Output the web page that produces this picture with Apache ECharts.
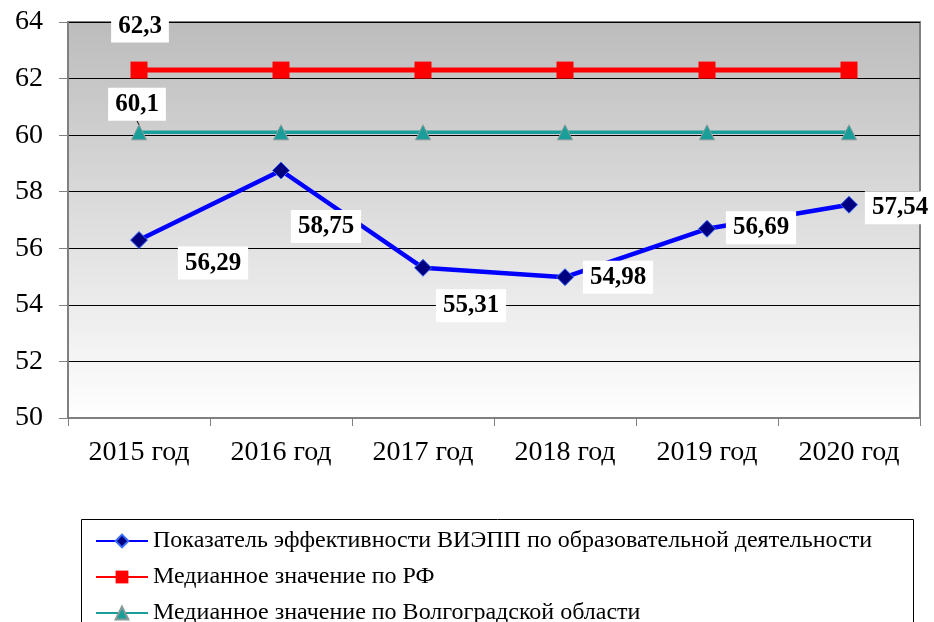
<!DOCTYPE html>
<html>
<head>
<meta charset="utf-8">
<script src="https://cdn.jsdelivr.net/npm/echarts@6/dist/echarts.min.js"></script>
<style>
  html, body { margin: 0; padding: 0; background: #fff; }
  #chart { width: 934px; height: 622px; }
</style>
</head>
<body>
<div id="chart"></div>
<script>
var years = ['2015 год', '2016 год', '2017 год', '2018 год', '2019 год', '2020 год'];
var vieppValues = [56.29, 58.75, 55.31, 54.98, 56.69, 57.54];
var rfMedian = [62.3, 62.3, 62.3, 62.3, 62.3, 62.3];
var regionMedian = [60.1, 60.1, 60.1, 60.1, 60.1, 60.1];
var yTicks = { min: 50, max: 64, step: 2 };

var seriesNames = [
    'Показатель эффективности ВИЭПП по образовательной деятельности',
    'Медианное значение по РФ',
    'Медианное значение по Волгоградской области'
];

// where each data label sits relative to its point
var vieppLabelShift = [[74, 23], [45, 56], [48, 38], [53, 0], [54, -1], [51, 3]];

var serif = '"Liberation Serif", "Times New Roman", serif';

function fmt(v) {
    return String(v).replace('.', ',');
}

var labelBase = {
    show: true,
    position: 'inside',
    fontFamily: serif,
    fontWeight: 'bold',
    fontSize: 25,
    color: '#000',
    backgroundColor: '#fff',
    padding: [5, 7, 3, 7],
    formatter: function (p) { return fmt(p.value); }
};

function withLabels(values, shifts, onlyFirst, leader) {
    var out = [];
    for (var i = 0; i < values.length; i++) {
        var item = { value: values[i] };
        if (onlyFirst && i > 0) {
            item.label = { show: false };
        } else {
            item.label = Object.assign({}, labelBase, { offset: shifts[i] });
            if (leader) {
                item.labelLine = { show: true, lineStyle: { color: '#000', width: 1 } };
            }
        }
        out.push(item);
    }
    return out;
}

var chart = echarts.init(document.getElementById('chart'));
var option = {
    animation: false,
    backgroundColor: '#fff',
    grid: {
        left: 68, right: 14, top: 22, bottom: 204,
        show: true,
        borderColor: '#808080',
        borderWidth: 2,
        backgroundColor: new echarts.graphic.LinearGradient(0, 0, 0, 1, [
            { offset: 0, color: '#bcbcbc' },
            { offset: 1, color: '#ffffff' }
        ])
    },
    xAxis: {
        type: 'category',
        data: years,
        boundaryGap: true,
        axisLine: { lineStyle: { color: '#808080', width: 2 } },
        axisTick: { show: true, length: 8, lineStyle: { color: '#808080', width: 1 } },
        axisLabel: { fontFamily: serif, fontSize: 28, color: '#000', margin: 21 },
        splitLine: { show: false }
    },
    yAxis: {
        type: 'value',
        min: yTicks.min,
        max: yTicks.max,
        interval: yTicks.step,
        axisLine: { show: true, lineStyle: { color: '#808080', width: 2 } },
        axisTick: { show: true, length: 9, lineStyle: { color: '#808080' } },
        axisLabel: { fontFamily: serif, fontSize: 28, color: '#000', margin: 25 },
        splitLine: { show: true, lineStyle: { color: '#000', width: 1 } }
    },
    legend: {
        orient: 'vertical',
        left: 90,
        top: 524,
        height: 200,
        itemWidth: 52,
        itemHeight: 16,
        itemGap: 12,
        textStyle: { fontFamily: serif, fontSize: 24, color: '#000' },
        data: seriesNames
    },
    graphic: [{
        type: 'rect',
        left: 79, top: 517,
        shape: { width: 832, height: 120 },
        style: { fill: 'none', stroke: '#000', lineWidth: 1 },
        z: -1
    }],
    series: [
        {
            name: seriesNames[0],
            type: 'line',
            data: withLabels(vieppValues, vieppLabelShift, false, false),
            symbol: 'diamond',
            symbolSize: 17,
            lineStyle: { color: '#0000ff', width: 4.5 },
            itemStyle: { color: '#000080', borderColor: '#3a6bff', borderWidth: 1 },
            z: 5
        },
        {
            name: seriesNames[1],
            type: 'line',
            data: withLabels(rfMedian, [[1, -44]], true, false),
            symbol: 'rect',
            symbolSize: 17,
            lineStyle: { color: '#ff0000', width: 5 },
            itemStyle: { color: '#ff0000', borderColor: '#ff0000', borderWidth: 0 },
            z: 4
        },
        {
            name: seriesNames[2],
            type: 'line',
            data: withLabels(regionMedian, [[-2, -28]], true, true),
            symbol: 'triangle',
            symbolSize: 15,
            lineStyle: { color: '#1a9e9a', width: 3.5 },
            itemStyle: { color: '#1a9e9a', borderColor: '#8a9a9a', borderWidth: 1 },
            z: 3
        }
    ]
};
chart.setOption(option);
</script>
</body>
</html>
